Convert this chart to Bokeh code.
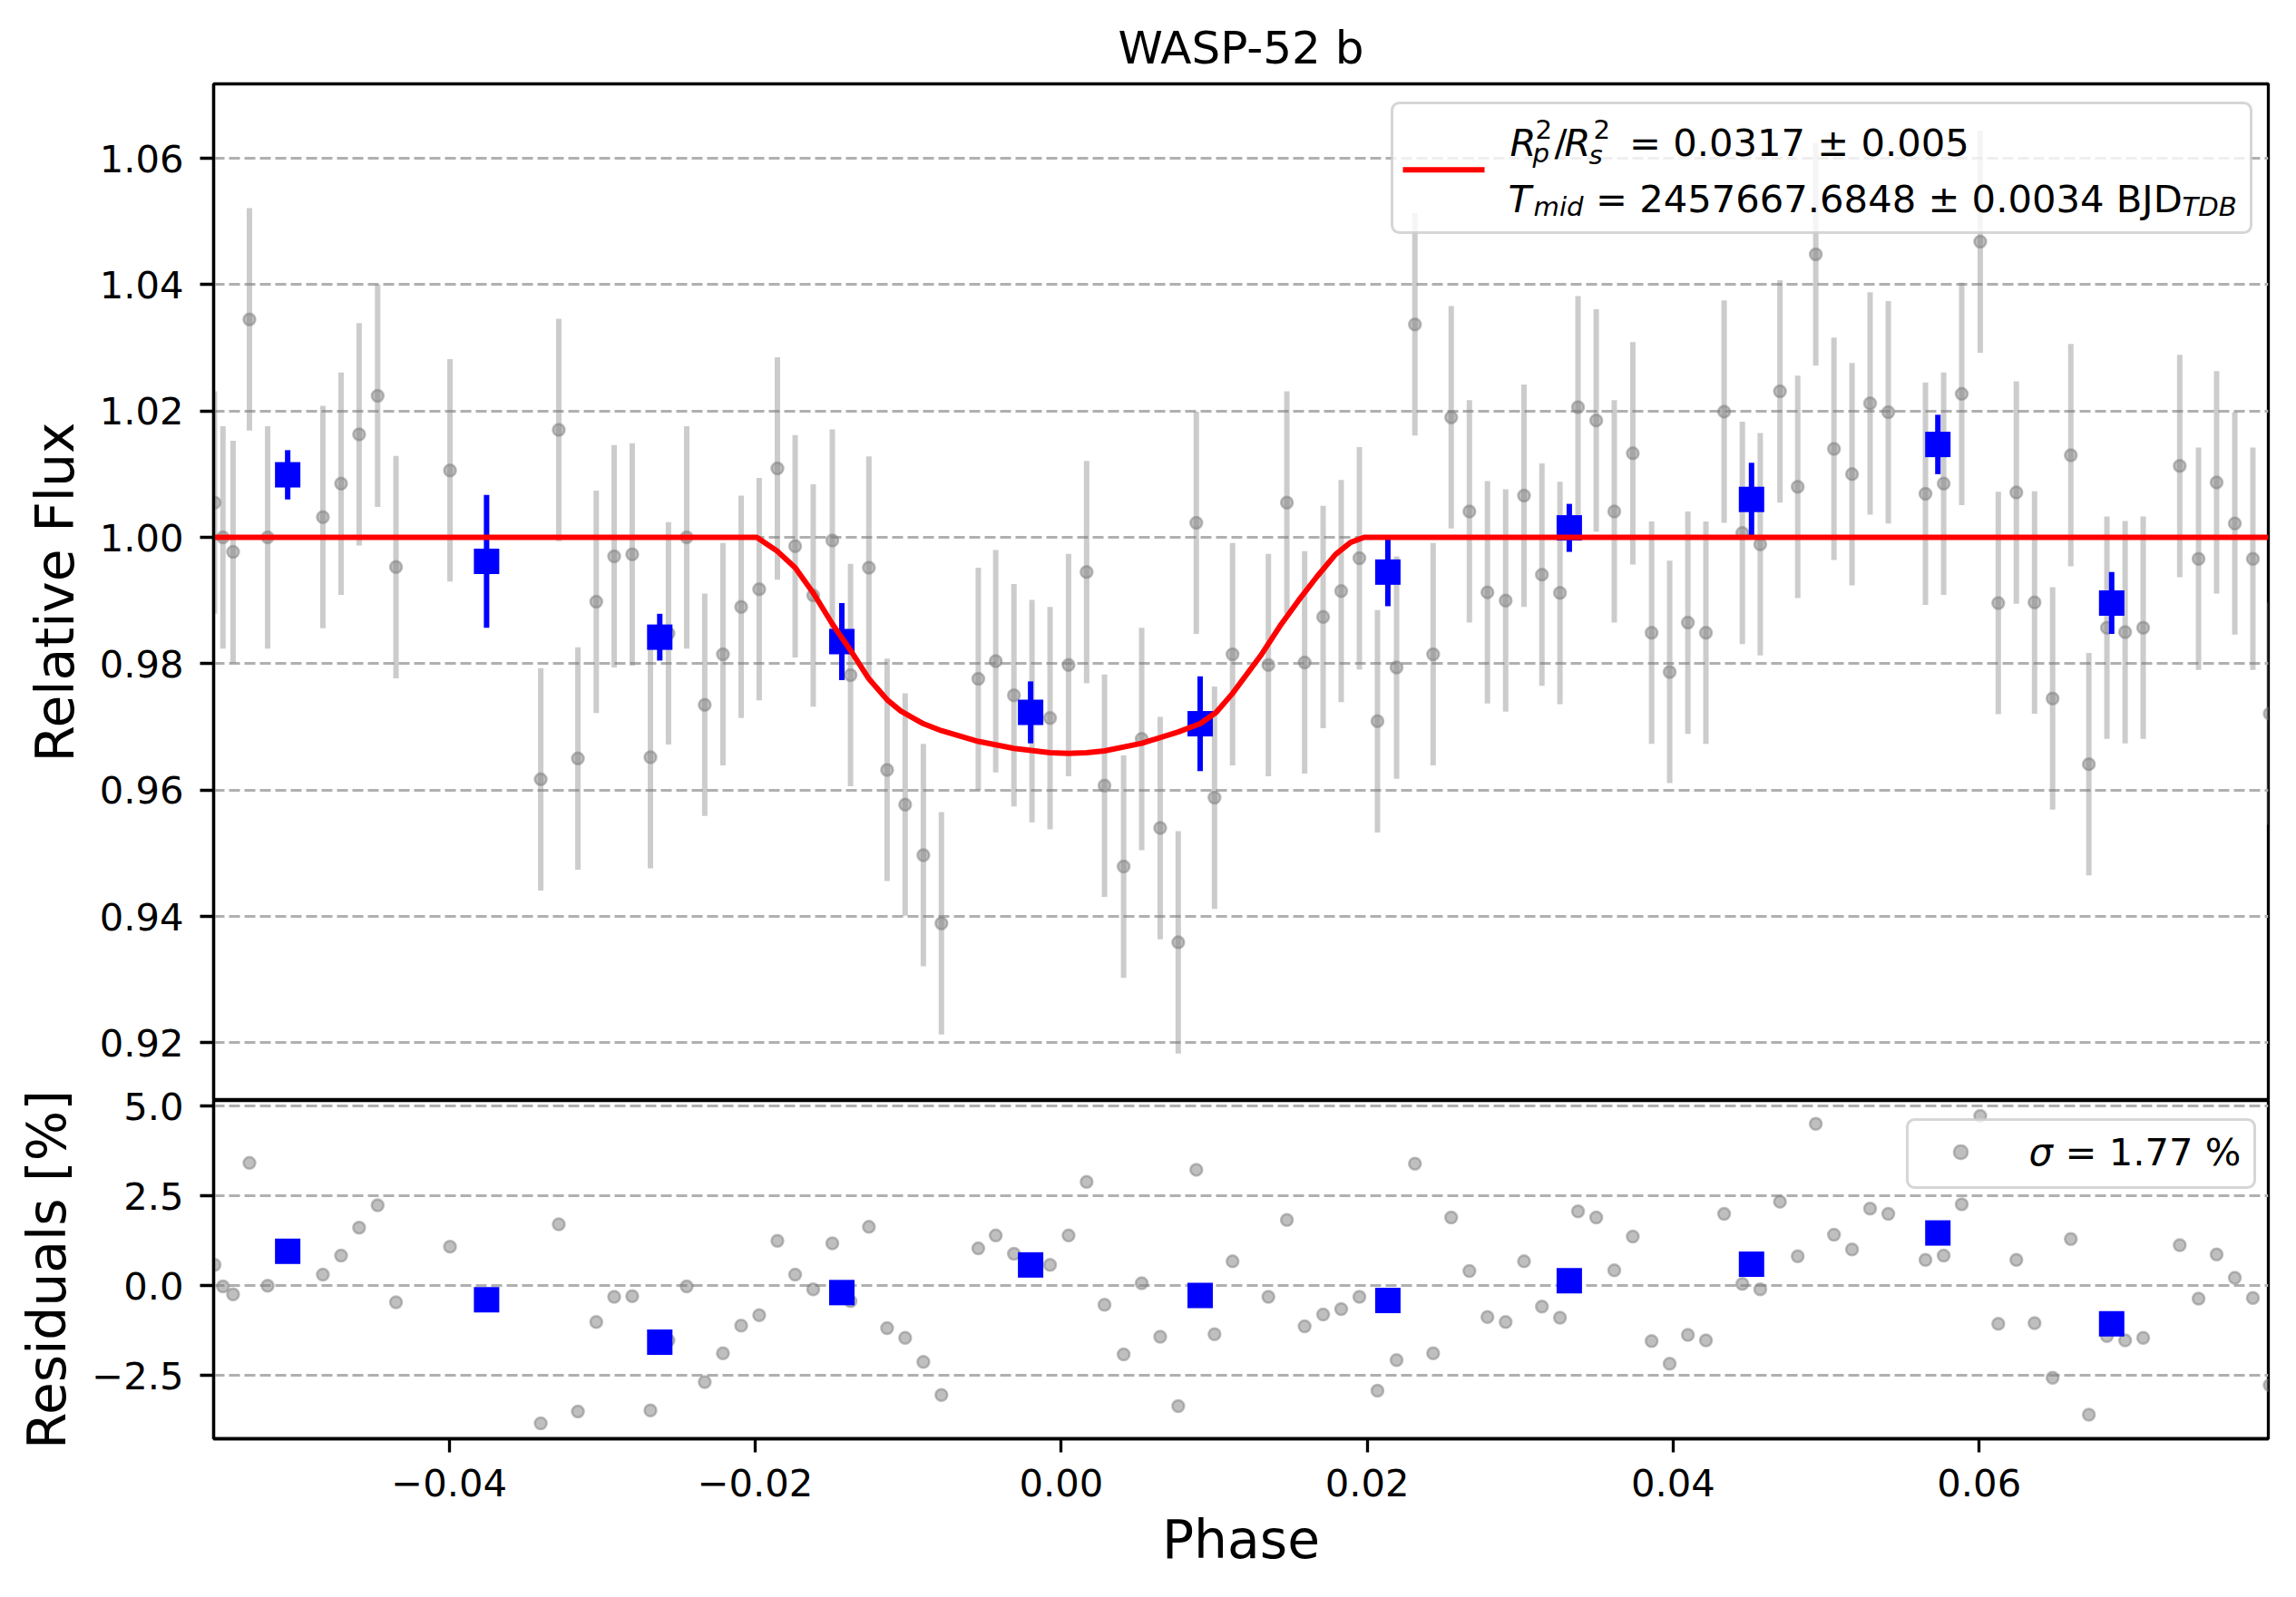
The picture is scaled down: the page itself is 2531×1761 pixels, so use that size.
from bokeh.plotting import figure
from bokeh.layouts import column
from bokeh.models import (ColumnDataSource, Range1d, FixedTicker, CustomJSTickFormatter,
                          BoxAnnotation, Label)
from bokeh.embed import file_html
from bokeh.resources import INLINE

# ---------------- data ----------------
phase = [
    -0.05534, -0.05479, -0.05413, -0.05306, -0.05187, -0.04826, -0.04707, -0.04589,
    -0.04468, -0.04348, -0.03995, -0.03402, -0.03284, -0.03159, -0.03039, -0.02922,
    -0.02804, -0.02685, -0.02567, -0.02448, -0.02330, -0.02211,
    -0.02092, -0.01974, -0.01855, -0.01739, -0.01621, -0.01496, -0.01377, -0.01257,
    -0.01138, -0.01020, -0.00901, -0.00783, -0.00542, -0.00428, -0.00309, -0.00191,
    -0.00073, 0.00048, 0.00166, 0.00283, 0.00408, 0.00526, 0.00647, 0.00765,
    0.00883, 0.01002, 0.01120,
    0.01354, 0.01475, 0.01591, 0.01712, 0.01830, 0.01949, 0.02067, 0.02192,
    0.02312, 0.02431, 0.02549, 0.02668, 0.02786, 0.02905, 0.03025, 0.03142,
    0.03260, 0.03378, 0.03497, 0.03615, 0.03736, 0.03859, 0.03977, 0.04096,
    0.04214, 0.04333, 0.04452, 0.04569,
    0.04698, 0.04814, 0.04932, 0.05051, 0.05169, 0.05287, 0.05406, 0.05649,
    0.05768, 0.05886, 0.06007, 0.06125, 0.06243, 0.06362, 0.06480, 0.06599,
    0.06717, 0.06835, 0.06954, 0.07072, 0.07311, 0.07434, 0.07552, 0.07671,
    0.07789, 0.07899,
]
flux = [
    1.0055, 1.0000, 0.9977, 1.0345, 1.0000, 1.0032, 1.0085, 1.0163,
    1.0224, 0.9953, 1.0106, 0.9617, 1.0170, 0.9650, 0.9898, 0.9970,
    0.9973, 0.9652, 0.9848, 1.0000, 0.9735, 0.9815,
    0.9890, 0.9918, 1.0109, 0.9986, 0.9908, 0.9995, 0.9782, 0.9952,
    0.9632, 0.9577, 0.9497, 0.9389, 0.9776, 0.9804, 0.9750, 0.9725,
    0.9714, 0.9798, 0.9945, 0.9607, 0.9479, 0.9681, 0.9540, 0.9359,
    1.0023, 0.9588, 0.9815,
    0.9798, 1.0055, 0.9802, 0.9874, 0.9915, 0.9967, 0.9709, 0.9794,
    1.0337, 0.9815, 1.0190, 1.0041, 0.9913, 0.9900, 1.0066, 0.9941,
    0.9912, 1.0206, 1.0185, 1.0041, 1.0133, 0.9849, 0.9787, 0.9865,
    0.9849, 1.0199, 1.0007, 0.9989,
    1.0231, 1.0080, 1.0448, 1.0140, 1.0100, 1.0212, 1.0198, 1.0069,
    1.0085, 1.0227, 1.0468, 0.9896, 1.0071, 0.9897, 0.9745, 1.0130,
    0.9641, 0.9857, 0.9850, 0.9857, 1.0113, 0.9966, 1.0087, 1.0022,
    0.9966, 0.9721,
]
resid = [
    0.58, -0.02, -0.24, 3.42, 0.00, 0.31, 0.84, 1.62,
    2.24, -0.46, 1.09, -3.83, 1.71, -3.50, -1.01, -0.31,
    -0.29, -3.47, -1.52, -0.02, -2.68, -1.88,
    -1.11, -0.82, 1.25, 0.31, -0.10, 1.18, -0.43, 1.64,
    -1.18, -1.45, -2.12, -3.04, 1.04, 1.40, 0.89, 0.60,
    0.58, 1.40, 2.89, -0.53, -1.91, 0.07, -1.42, -3.35,
    3.23, -1.35, 0.68,
    -0.31, 1.83, -1.13, -0.80, -0.65, -0.31, -2.92, -2.07,
    3.40, -1.88, 1.90, 0.41, -0.87, -1.01, 0.68, -0.58,
    -0.89, 2.07, 1.90, 0.43, 1.37, -1.54, -2.17, -1.37,
    -1.52, 2.00, 0.05, -0.10,
    2.34, 0.82, 4.51, 1.42, 1.01, 2.15, 2.00, 0.72,
    0.84, 2.27, 4.73, -1.06, 0.72, -1.04, -2.56, 1.30,
    -3.59, -1.40, -1.52, -1.45, 1.13, -0.36, 0.87, 0.22,
    -0.34, -2.77,
]
flux_err = 0.0176

bin_phase = [-0.05056, -0.03756, -0.02624, -0.01434, -0.00200, 0.00908,
             0.02135, 0.03321, 0.04512, 0.05730, 0.06866]
bin_flux = [1.0099, 0.9962, 0.9842, 0.9835, 0.9723, 0.9705,
            0.9945, 1.0015, 1.0060, 1.0147, 0.9896]
bin_err = [0.0039, 0.0105, 0.0037, 0.0061, 0.0049, 0.0075,
           0.0054, 0.0038, 0.0058, 0.0047, 0.0049]
bin_resid = [0.96, -0.39, -1.57, -0.19, 0.58, -0.27,
             -0.41, 0.14, 0.60, 1.47, -1.06]

model_phase = [-0.0554, -0.0199, -0.01860, -0.01739, -0.01618, -0.01496, -0.01377,
               -0.01257, -0.01138, -0.01048, -0.00901, -0.00783, -0.00542, -0.00309,
               -0.00073, 0.00048, 0.00166, 0.00283, 0.00526, 0.00765, 0.00908,
               0.01013, 0.01120, 0.01310, 0.01431, 0.01551, 0.01672, 0.01793,
               0.01891, 0.01980, 0.0789]
model_flux = [1.0000, 1.0000, 0.9979, 0.9952, 0.9911, 0.9863, 0.9821,
              0.9776, 0.9743, 0.9725, 0.9705, 0.9694, 0.9677, 0.9666,
              0.9659, 0.9658, 0.9659, 0.9662, 0.9674, 0.9692, 0.9705,
              0.9723, 0.9753, 0.9815, 0.9860, 0.9900, 0.9938, 0.9973,
              0.9992, 1.0000, 1.0000]

x_ticks = [-0.04, -0.02, 0.00, 0.02, 0.04, 0.06]
flux_ticks = [0.92, 0.94, 0.96, 0.98, 1.00, 1.02, 1.04, 1.06]
resid_ticks = [-2.5, 0.0, 2.5, 5.0]

title_text = "WASP-52 b"
xlabel = "Phase"
ylabel_top = "Relative Flux"
ylabel_bottom = "Residuals [%]"
sigma_value = "1.77"

# ---------------- layout constants ----------------
FONT = "DejaVu Sans"
W = 2531
BL, BR = 235, 31
BT = 92
FH1, FH2 = 1121, 373
BB = 175
EXTRA = 70          # bottom panel canvas reaches up over the top panel by this much
XMIN, XMAX = -0.0554, 0.0789
Y1MIN, Y1MAX = 0.91087, 1.07177
Y2MIN, Y2MAX = -4.26, 5.159

# page pixel -> data helpers (used only for legend placement)
PFL, PFR = BL, W - BR
PFT1 = BT
PFT2 = PFT1 + FH1


def sx(px):
    return XMIN + (px - PFL) * (XMAX - XMIN) / (PFR - PFL)


def sy1(py):
    return Y1MAX - (py - PFT1) * (Y1MAX - Y1MIN) / FH1


def sy2(py):
    return Y2MAX - (py - PFT2) * (Y2MAX - Y2MIN) / FH2


xr = Range1d(XMIN, XMAX)


def fmt(digits):
    return CustomJSTickFormatter(code="""
        const s = Math.abs(tick).toFixed(%d);
        return (tick < -1e-12 ? "\\u2212" : "") + s;
    """ % digits)


def style(p):
    p.background_fill_color = "white"
    p.outline_line_color = "black"
    p.outline_line_width = 3.3
    p.xgrid.visible = False
    p.ygrid.grid_line_color = "#b0b0b0"
    p.ygrid.grid_line_dash = "12 5"
    p.ygrid.grid_line_width = 3
    for ax in p.axis:
        ax.axis_line_color = "black"
        ax.axis_line_width = 3.3
        ax.major_tick_out = 15
        ax.major_tick_in = 0
        ax.major_tick_line_width = 3.3
        ax.major_tick_line_color = "black"
        ax.minor_tick_out = 0
        ax.minor_tick_in = 0
        ax.major_label_text_font = FONT
        ax.major_label_text_font_size = "41.7px"
        ax.major_label_text_color = "black"
        ax.major_label_standoff = 18
        ax.axis_label_text_font = FONT
        ax.axis_label_text_font_size = "58.3px"
        ax.axis_label_text_font_style = "normal"
        ax.axis_label_text_color = "black"
        ax.axis_label_standoff = 12


# ---------------- top panel ----------------
p1 = figure(width=W, height=BT + FH1, x_range=xr, y_range=Range1d(Y1MIN, Y1MAX),
            output_backend="svg", toolbar_location=None,
            min_border_left=BL, min_border_right=BR, min_border_top=BT, min_border_bottom=0)
p1.border_fill_color = "white"
p1.title.text = title_text
p1.title.text_font = FONT
p1.title.text_font_size = "50px"
p1.title.text_font_style = "normal"
p1.title.text_color = "black"
p1.title.align = "center"
p1.title.standoff = 22
style(p1)
p1.xaxis.visible = False
p1.yaxis.ticker = FixedTicker(ticks=flux_ticks)
p1.yaxis.formatter = fmt(2)
p1.yaxis.axis_label = ylabel_top

src = ColumnDataSource(dict(
    x=phase, y=flux,
    lo=[f - flux_err for f in flux], hi=[f + flux_err for f in flux],
    r=resid))
bsrc = ColumnDataSource(dict(
    x=bin_phase, y=bin_flux,
    lo=[f - e for f, e in zip(bin_flux, bin_err)],
    hi=[f + e for f, e in zip(bin_flux, bin_err)],
    r=bin_resid))
msrc = ColumnDataSource(dict(x=model_phase, y=model_flux))

p1.segment(x0="x", y0="lo", x1="x", y1="hi", source=src,
           line_color="gray", line_alpha=0.4, line_width=6)
p1.scatter(x="x", y="y", source=src, marker="circle", size=13,
           fill_color="gray", fill_alpha=0.5, line_color="gray", line_alpha=0.5, line_width=2.5)
p1.segment(x0="x", y0="lo", x1="x", y1="hi", source=bsrc,
           line_color="blue", line_width=6)
p1.scatter(x="x", y="y", source=bsrc, marker="square", size=28,
           fill_color="blue", line_color="blue", line_width=0)
p1.line(x="x", y="y", source=msrc, line_color="red", line_width=6)

# legend (top)
p1.add_layout(BoxAnnotation(left=sx(1534), right=sx(2481), top=sy1(113), bottom=sy1(256),
                            fill_color="white", fill_alpha=0.8,
                            line_color="#cccccc", line_alpha=0.8, line_width=3,
                            border_radius=8))
p1.add_layout(BoxAnnotation(left=sx(1546), right=sx(1636), top=sy1(183.7), bottom=sy1(189.7),
                            fill_color="red", fill_alpha=1.0, line_color=None))

BIG, SMALL = "41.7px", "29.2px"
LIFT = {BIG: 13, SMALL: 9}   # compensation for the text box baseline
pieces = [
    ("R", 1664, 170, BIG, "italic"),
    ("p", 1689, 177.5, SMALL, "italic"),
    ("2", 1692, 151, SMALL, "normal"),
    ("/", 1713, 170, BIG, "normal"),
    ("R", 1724, 170, BIG, "italic"),
    ("s", 1751, 179, SMALL, "italic"),
    ("2", 1756, 151, SMALL, "normal"),
    ("= 0.0317 \u00b1 0.005", 1795.5, 170, BIG, "normal"),
    ("T", 1662, 231.5, BIG, "italic"),
    ("mid", 1690, 236.5, SMALL, "italic"),
    ("= 2457667.6848 \u00b1 0.0034 BJD", 1758.5, 231.5, BIG, "normal"),
    ("TDB", 2405, 236.5, SMALL, "italic"),
]
for t, px, py, fs, st in pieces:
    p1.add_layout(Label(x=sx(px), y=sy1(py - LIFT[fs]), text=t, text_font=FONT,
                        text_font_size=fs, text_font_style=st, text_color="black",
                        text_baseline="alphabetic", text_align="left"))

# ---------------- bottom panel ----------------
p2 = figure(width=W, height=EXTRA + FH2 + BB, x_range=xr, y_range=Range1d(Y2MIN, Y2MAX),
            output_backend="svg", toolbar_location=None,
            min_border_left=BL, min_border_right=BR, min_border_top=EXTRA, min_border_bottom=BB)
p2.border_fill_color = "white"
p2.border_fill_alpha = 0.0
p2.margin = (-EXTRA, 0, 0, 0)
style(p2)
p2.xaxis.ticker = FixedTicker(ticks=x_ticks)
p2.xaxis.formatter = fmt(2)
p2.xaxis.major_label_standoff = 18
p2.xaxis.axis_label = xlabel
p2.xaxis.axis_label_standoff = 11
p2.yaxis.ticker = FixedTicker(ticks=resid_ticks)
p2.yaxis.formatter = fmt(1)
p2.yaxis.axis_label = ylabel_bottom

p2.scatter(x="x", y="r", source=src, marker="circle", size=13,
           fill_color="gray", fill_alpha=0.5, line_color="gray", line_alpha=0.5, line_width=2.5)
p2.scatter(x="x", y="r", source=bsrc, marker="square", size=28,
           fill_color="blue", line_color="blue", line_width=0)

# legend (bottom)
p2.add_layout(BoxAnnotation(left=sx(2102), right=sx(2485), top=sy2(1234), bottom=sy2(1309),
                            fill_color="white", fill_alpha=0.8,
                            line_color="#cccccc", line_alpha=0.8, line_width=3,
                            border_radius=8))
p2.add_layout(BoxAnnotation(left=sx(2153.5), right=sx(2168.5), top=sy2(1262.5), bottom=sy2(1277.5),
                            fill_color="gray", fill_alpha=0.5,
                            line_color="gray", line_alpha=0.5, line_width=2.5,
                            border_radius=7))
p2.add_layout(Label(x=sx(2236), y=sy2(1283.5 - 14), text="\u03c3", text_font=FONT,
                    text_font_size=BIG, text_font_style="italic", text_color="black",
                    text_baseline="alphabetic"))
p2.add_layout(Label(x=sx(2276), y=sy2(1283.5 - 14), text="= " + sigma_value + " %", text_font=FONT,
                    text_font_size=BIG, text_font_style="normal", text_color="black",
                    text_baseline="alphabetic"))

layout = column(p1, p2, spacing=0)
open("out.html", "w").write(file_html(layout, INLINE, title="WASP-52 b"))
